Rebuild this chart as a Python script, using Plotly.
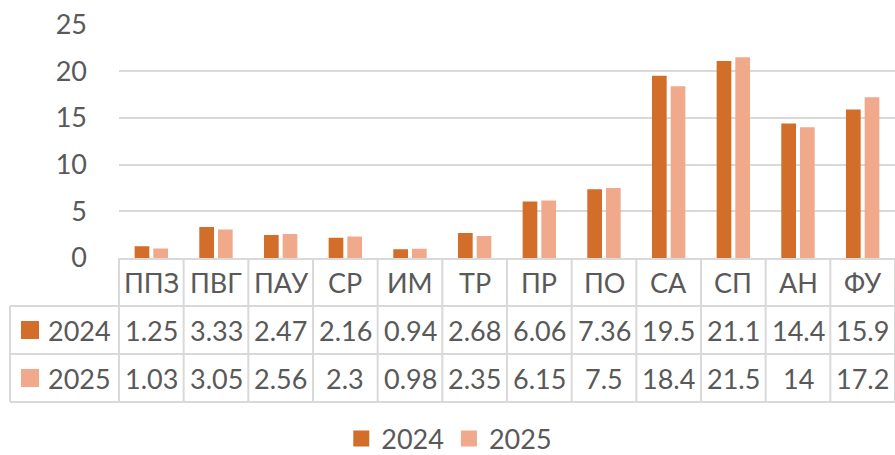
import plotly.graph_objects as go

categories = ["ППЗ", "ПВГ", "ПАУ", "СР", "ИМ", "ТР", "ПР", "ПО", "СА", "СП", "АН", "ФУ"]
series_names = ["2024", "2025"]
values_2024 = [1.25, 3.33, 2.47, 2.16, 0.94, 2.68, 6.06, 7.36, 19.5, 21.1, 14.4, 15.9]
values_2025 = [1.03, 3.05, 2.56, 2.3, 0.98, 2.35, 6.15, 7.5, 18.4, 21.5, 14, 17.2]
y_ticks = [0, 5, 10, 15, 20, 25]

colors = ["#D26D2A", "#F1A98B"]
series_values = [values_2024, values_2025]

W, H = 895, 455
FONT = "Lato, 'Noto Sans', sans-serif"
TXT = "#595959"
GRID = "#D9D9D9"
FS = 27

# pixel layout
plot_left, plot_right = 119, 895
y0_px, ytop_px = 258, 24.5
table_left = 10
row_h = 48
unit = (plot_right - plot_left) / len(categories)
n = len(categories)

fig = go.Figure()
cat_idx = list(range(n))
for name, vals, col in zip(series_names, series_values, colors):
    fig.add_trace(go.Bar(x=cat_idx, y=vals, name=name, marker=dict(color=col, line=dict(width=0)),
                         showlegend=False, xaxis="x", yaxis="y"))
# legend entries
for name, col in zip(series_names, colors):
    fig.add_trace(go.Scatter(x=[None], y=[None], mode="markers", name=name,
                             marker=dict(symbol="square", size=18, color=col), xaxis="x", yaxis="y"))

# table axes
x2_left_val = -0.5 - (plot_left - table_left) / unit
x2_range_left = x2_left_val - 0.115
x2_left_px = table_left - (x2_left_val - x2_range_left) * unit
y2_top_val, y2_bot_val = -0.05, 3.15
y2_top_px = y0_px + y2_top_val * row_h
y2_bot_px = y0_px + y2_bot_val * row_h

shapes = []
line = dict(color=GRID, width=2)
for r in [1, 2, 3]:
    shapes.append(dict(type="line", xref="x2", yref="y2", x0=x2_left_val, x1=n - 0.5 + 0.2, y0=r, y1=r, line=line))
shapes.append(dict(type="line", xref="x2", yref="y2", x0=x2_left_val, x1=x2_left_val, y0=1, y1=3, line=line))
for i in range(n + 1):
    shapes.append(dict(type="line", xref="x2", yref="y2", x0=i - 0.5, x1=i - 0.5, y0=0, y1=3, line=line))

annotations = []
for i, c in enumerate(categories):
    annotations.append(dict(x=i, y=0.5, xref="x2", yref="y2", text=c, showarrow=False,
                            font=dict(family=FONT, size=FS, color=TXT)))
for r, vals in enumerate(series_values):
    for i, v in enumerate(vals):
        annotations.append(dict(x=i, y=1.5 + r, xref="x2", yref="y2", text=f"{v:g}", showarrow=False,
                                font=dict(family=FONT, size=FS, color=TXT)))

key_x0 = x2_left_val + 11 / unit
key_x1 = x2_left_val + 29 / unit
key_half = 9 / row_h
for r, (name, col) in enumerate(zip(series_names, colors)):
    yc = 1.5 + r
    shapes.append(dict(type="rect", xref="x2", yref="y2", x0=key_x0, x1=key_x1, y0=yc - key_half, y1=yc + key_half,
                       fillcolor=col, line=dict(width=0)))
    annotations.append(dict(x=x2_left_val + 36 / unit, y=yc, xref="x2", yref="y2", text=name, showarrow=False,
                            xanchor="left", font=dict(family=FONT, size=FS, color=TXT)))

fig.update_layout(
    width=W, height=H,
    margin=dict(l=0, r=0, t=0, b=0, autoexpand=False),
    paper_bgcolor="white", plot_bgcolor="rgba(0,0,0,0)",
    barmode="group", bargap=0.4217, bargroupgap=0.214,
    font=dict(family=FONT, size=FS, color=TXT),
    xaxis=dict(domain=[plot_left / W, 1], range=[-0.5, n - 0.5], showticklabels=False, showgrid=False,
               zeroline=False, showline=True, linecolor=GRID, linewidth=2, fixedrange=True),
    yaxis=dict(domain=[(H - y0_px) / H, (H - ytop_px) / H], range=[0, 25], tickvals=y_ticks,
               showgrid=True, gridcolor=GRID, gridwidth=1.5, zeroline=False, showline=False,
               ticklabelstandoff=31, tickfont=dict(family=FONT, size=FS, color=TXT)),
    xaxis2=dict(domain=[x2_left_px / W, 1], range=[x2_range_left, n - 0.5], visible=False, anchor="y2"),
    yaxis2=dict(domain=[(H - y2_bot_px) / H, (H - y2_top_px) / H], range=[y2_bot_val, y2_top_val],
                visible=False, anchor="x2"),
    shapes=shapes,
    annotations=annotations,
    legend=dict(orientation="h", x=0.502, xanchor="center", y=(H - 439) / H, yanchor="middle",
                font=dict(family=FONT, size=FS, color=TXT), bgcolor="rgba(0,0,0,0)",
                itemwidth=30, traceorder="normal"),
)

fig.write_html("out.html", config={"displayModeBar": False},
               post_script="document.body.style.margin='0';")
